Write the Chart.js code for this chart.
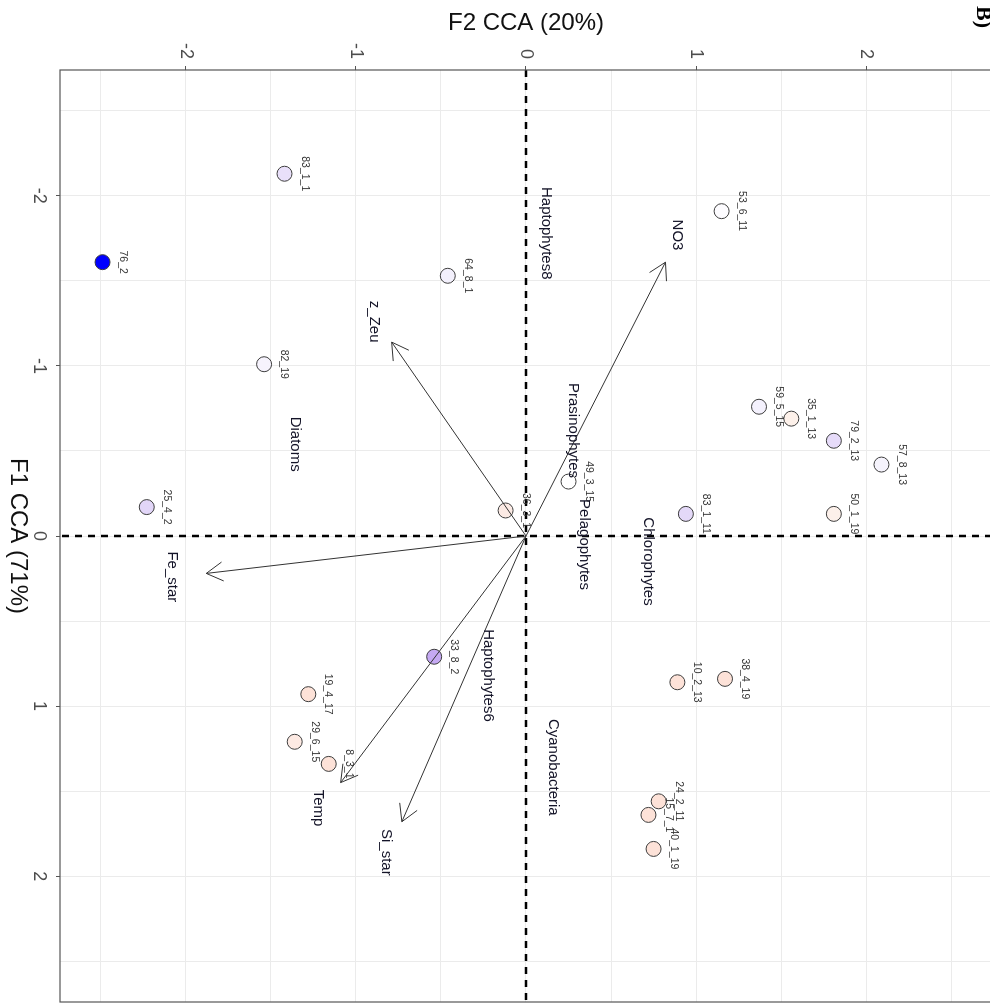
<!DOCTYPE html>
<html>
<head>
<meta charset="utf-8">
<script src="https://cdn.jsdelivr.net/npm/chart.js@4.4.1/dist/chart.umd.min.js"></script>
<style>
  body { margin: 0; width: 990px; height: 1003px; overflow: hidden; background: #fff; }
  /* the figure is a CCA biplot turned a quarter turn clockwise */
  #wrap {
    position: absolute; left: 0; top: 0;
    width: 1003px; height: 1002px;
    transform-origin: 0 0;
    transform: translateX(1002px) rotate(90deg);
  }
</style>
</head>
<body>
<div id="wrap"><canvas id="ccaChart" width="1003" height="1002"></canvas></div>
<script>
// Sites (samples)
const siteNames = ['83_1_1', '76_2', '64_8_1', '53_6_11', '82_19', '25_4_2', '36_3_1', '49_3_15',
    '59_5_15', '35_1_13', '79_2_13', '57_8_13', '83_1_11', '50_1_19', '33_8_2', '19_4_17',
    '29_6_15', '8_3_1', '38_4_19', '10_2_13', '24_2_11', '15_7_1', '40_1_19'];
const siteF1 = [-2.13, -1.61, -1.53, -1.91, -1.01, -0.17, -0.15, -0.32,
    -0.76, -0.69, -0.56, -0.42, -0.13, -0.13, 0.71, 0.93,
    1.21, 1.34, 0.84, 0.86, 1.56, 1.64, 1.84];
const siteF2 = [-1.42, -2.49, -0.46, 1.15, -1.54, -2.23, -0.12, 0.25,
    1.37, 1.56, 1.81, 2.09, 0.94, 1.81, -0.54, -1.28,
    -1.36, -1.16, 1.17, 0.89, 0.78, 0.72, 0.75];
const siteFill = ['#e9e0fa', '#0000ff', '#f3f0fc', '#fdfcff', '#f6f3fd', '#e2d6f8', '#fbeae4', '#ffffff',
    '#f4f1fd', '#fdf1ea', '#e6dbf9', '#f5f3fc', '#e4d9f8', '#fcf0ea', '#c5a9f3', '#fde2d8',
    '#fdeae3', '#fde2d8', '#fde2d8', '#fde2d8', '#fde2d8', '#fde2d8', '#fde2d8'];

// Environmental vectors
const envNames = ['NO3', 'z_Zeu', 'Fe_star', 'Temp', 'Si_star'];
const envF1 = [-1.61, -1.14, 0.22, 1.45, 1.68];
const envF2 = [0.82, -0.79, -1.88, -1.09, -0.73];
const envLabelF1 = [-1.77, -1.26, 0.24, 1.60, 1.86];
const envLabelF2 = [0.89, -0.89, -2.08, -1.22, -0.82];

// Phytoplankton groups (species scores)
const speciesNames = ['Haptophytes8', 'Prasinophytes', 'Diatoms', 'Pelagophytes',
    'Chlorophytes', 'Haptophytes6', 'Cyanobacteria'];
const speciesF1 = [-1.78, -0.62, -0.54, 0.05, 0.15, 0.82, 1.36];
const speciesF2 = [0.12, 0.28, -1.36, 0.34, 0.72, -0.22, 0.16];

// Axes
const axisLimit = 2.74;
const gridSteps = [-2.5, -2, -1.5, -1, -0.5, 0, 0.5, 1, 1.5, 2, 2.5];
const tickValues = [-2, -1, 0, 1, 2];
const tickLabels = ['-2', '-1', '0', '1', '2'];

const FONT = "'Liberation Sans', Arial, sans-serif";

const biplotPlugin = {
    id: 'biplot',
    beforeDatasetsDraw(chart) {
        const { ctx, chartArea: a, scales: { x, y } } = chart;
        ctx.save();
        ctx.strokeStyle = '#000';
        ctx.lineWidth = 2.5;
        ctx.setLineDash([7, 6]);
        ctx.beginPath();
        ctx.moveTo(x.getPixelForValue(0), a.top);
        ctx.lineTo(x.getPixelForValue(0), a.bottom);
        ctx.moveTo(a.left, y.getPixelForValue(0));
        ctx.lineTo(a.right, y.getPixelForValue(0));
        ctx.stroke();
        ctx.restore();
    },
    afterDatasetsDraw(chart) {
        const { ctx, chartArea: a, scales: { x, y } } = chart;
        ctx.save();

        // arrow heads
        const ox = x.getPixelForValue(0), oy = y.getPixelForValue(0);
        ctx.strokeStyle = '#333';
        ctx.lineWidth = 1;
        envNames.forEach((n, i) => {
            const tx = x.getPixelForValue(envF1[i]), ty = y.getPixelForValue(envF2[i]);
            const ang = Math.atan2(ty - oy, tx - ox);
            const len = 19, spread = Math.PI / 6;
            ctx.beginPath();
            ctx.moveTo(tx - len * Math.cos(ang - spread), ty - len * Math.sin(ang - spread));
            ctx.lineTo(tx, ty);
            ctx.lineTo(tx - len * Math.cos(ang + spread), ty - len * Math.sin(ang + spread));
            ctx.stroke();
        });

        ctx.textAlign = 'center';
        ctx.textBaseline = 'middle';

        // site labels sit just above each point
        ctx.fillStyle = '#333';
        ctx.font = '10.5px ' + FONT;
        siteNames.forEach((n, i) => {
            ctx.fillText(n, x.getPixelForValue(siteF1[i]), y.getPixelForValue(siteF2[i]) - 20);
        });

        ctx.fillStyle = '#141428';
        ctx.font = '15px ' + FONT;
        envNames.forEach((n, i) => {
            ctx.fillText(n, x.getPixelForValue(envLabelF1[i]), y.getPixelForValue(envLabelF2[i]));
        });
        speciesNames.forEach((n, i) => {
            ctx.fillText(n, x.getPixelForValue(speciesF1[i]), y.getPixelForValue(speciesF2[i]));
        });

        // panel border
        ctx.strokeStyle = '#555';
        ctx.lineWidth = 1.2;
        ctx.strokeRect(a.left, a.top, a.right - a.left, a.bottom - a.top);

        // panel tag
        ctx.fillStyle = '#000';
        ctx.font = "bold 22px 'Liberation Serif', 'Times New Roman', serif";
        ctx.fillText('B)', 17, 19);
        ctx.restore();
    }
};

function gridAxis(titleText, pos) {
    return {
        type: 'linear',
        position: pos,
        min: -axisLimit,
        max: axisLimit,
        afterBuildTicks: scale => {
            scale.ticks = gridSteps.map(v => ({ value: v }));
        },
        afterFit: scale => {
            // fixed axis band, no extra room reserved for end labels
            if (pos === 'bottom') scale.height = 60;
            else scale.width = 70;
            scale.paddingTop = 0;
            scale.paddingBottom = 0;
            scale.paddingLeft = 0;
            scale.paddingRight = 0;
        },
        grid: {
            color: '#ebebeb',
            lineWidth: 1,
            tickLength: 4,
            tickColor: c => (tickValues.includes(c.tick && c.tick.value) ? '#555' : 'rgba(0,0,0,0)')
        },
        border: { display: false },
        ticks: {
            autoSkip: false,
            maxRotation: 0,
            padding: pos === 'bottom' ? 6 : 7,
            color: '#4d4d4d',
            font: { family: FONT, size: 18 },
            callback: v => {
                const k = tickValues.indexOf(v);
                return k >= 0 ? tickLabels[k] : '';
            }
        },
        title: {
            display: true,
            text: titleText,
            color: '#111',
            font: { family: FONT, size: 24 },
            padding: pos === 'bottom' ? { top: 0, bottom: 3 } : { top: 9, bottom: 0 }
        }
    };
}

document.addEventListener('DOMContentLoaded', function() {
    const ctx = document.getElementById('ccaChart').getContext('2d');

    const envDatasets = envNames.map((n, i) => ({
        type: 'line',
        label: n,
        data: [{ x: 0, y: 0 }, { x: envF1[i], y: envF2[i] }],
        borderColor: '#333',
        borderWidth: 1,
        pointRadius: 0,
        fill: false,
        order: 1
    }));

    new Chart(ctx, {
        type: 'scatter',
        data: {
            datasets: [{
                label: 'Sites',
                data: siteNames.map((n, i) => ({ x: siteF1[i], y: siteF2[i] })),
                backgroundColor: siteFill,
                borderColor: '#3c3c3c',
                borderWidth: 1,
                pointRadius: 7.5,
                order: 2
            }].concat(envDatasets)
        },
        options: {
            responsive: false,
            devicePixelRatio: 1,
            animation: false,
            layout: { autoPadding: false, padding: { top: 10, right: 1, left: 0, bottom: 0 } },
            plugins: {
                legend: { display: false },
                tooltip: { enabled: false }
            },
            scales: {
                x: gridAxis('F1 CCA (71%)', 'bottom'),
                y: gridAxis('F2 CCA (20%)', 'left')
            }
        },
        plugins: [biplotPlugin]
    });
});
</script>
</body>
</html>
